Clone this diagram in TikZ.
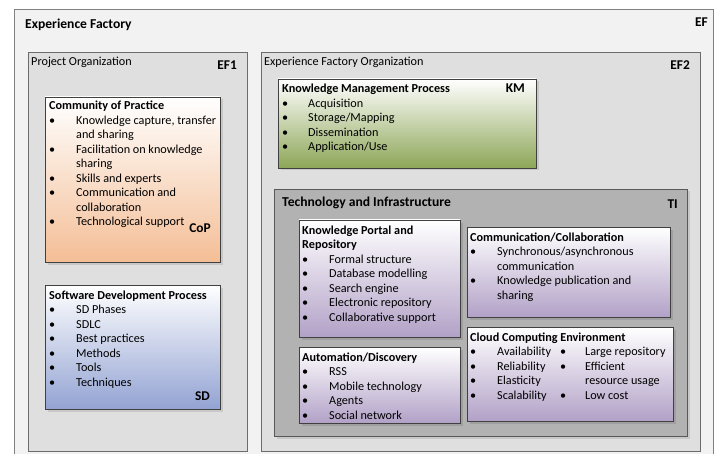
\documentclass[tikz,border=0pt]{standalone}
\usepackage{fontspec}
\setmainfont{Carlito}
\usetikzlibrary{calc,shadows}

\definecolor{efbg}{HTML}{F2F2F2}
\definecolor{orgbg}{HTML}{DFDFDF}
\definecolor{tibg}{HTML}{B2B2B2}
\definecolor{copc}{HTML}{F4BE96}
\definecolor{sdc}{HTML}{93A3D3}
\definecolor{kmc}{HTML}{8DA657}
\definecolor{techc}{HTML}{B2A1C7}

% heading row of a bullet list (two or four columns)
\newcommand{\hd}[1]{\multicolumn{2}{@{}l@{}}{\textbf{#1}}}
\newcommand{\hdw}[1]{\multicolumn{4}{@{}l@{}}{\textbf{#1}}}
\newcommand{\bl}{\textbullet}

\begin{document}
\begin{tikzpicture}[x=1pt,y=-1pt,
    font=\fontsize{12.2}{14.5}\selectfont,
    box/.style={anchor=north west,inner sep=0pt,outer sep=0pt},
    area/.style={box,draw=gray!85!black,fill=orgbg},
    card/.style={box,draw=black!75,
      drop shadow={shadow xshift=2.5pt,shadow yshift=-2.5pt,fill=black,opacity=.1}},
    txt/.style={anchor=base west,inner sep=0pt},
    big/.style={txt,font=\fontsize{13.6}{15}\selectfont\bfseries},
    lbl/.style={anchor=base east,inner sep=0pt,font=\fontsize{13.4}{15}\selectfont\bfseries}]
    \clip (0,0) rectangle (719,454);
    \fill[white] (0,0) rectangle (719,454);

    % the whole factory
    \node[box,draw=gray,fill=efbg,minimum width=699pt,minimum height=470pt] (EF) at (14,9) {};
    \node[big] (EFt) at (25,29) {Experience Factory};
    \node[lbl] (EFl) at (708,27) {EF};

    % project side
    \node[area,minimum width=219pt,minimum height=399pt] (EF1) at (28,52) {};
    \node[txt] (EF1t) at (31,66) {Project Organization};
    \node[lbl] (EF1l) at (237,70) {EF1};

    \node[card,top color=white,bottom color=copc,minimum width=175pt,minimum height=165pt] (CoP) at (45,97) {};
    \node[txt] (CoPt) at ($(CoP.north west)+(4,13)$) {\begin{tabular}[t]{@{}p{27pt}@{}l@{}}
        \hd{Community of Practice}\\
        \bl & Knowledge capture, transfer\\
            & and sharing\\
        \bl & Facilitation on knowledge\\
            & sharing\\
        \bl & Skills and experts\\
        \bl & Communication and\\
            & collaboration\\
        \bl & Technological support\\
      \end{tabular}};
    \node[lbl] (CoPl) at (211,233) {CoP};

    \node[card,top color=white,bottom color=sdc,minimum width=175pt,minimum height=124pt] (SD) at (45,285) {};
    \node[txt] (SDt) at ($(SD.north west)+(4,14)$) {\begin{tabular}[t]{@{}p{27pt}@{}l@{}}
        \hd{Software Development Process}\\
        \bl & SD Phases\\
        \bl & SDLC\\
        \bl & Best practices\\
        \bl & Methods\\
        \bl & Tools\\
        \bl & Techniques\\
      \end{tabular}};
    \node[lbl] (SDl) at (210,400) {SD};

    % factory organization side
    \node[area,minimum width=439pt,minimum height=399pt] (EF2) at (261,52) {};
    \node[txt] (EF2t) at (264,66) {Experience Factory Organization};
    \node[lbl] (EF2l) at (690,70) {EF2};

    \node[card,top color=white,bottom color=kmc,minimum width=258pt,minimum height=89pt] (KM) at (278,79) {};
    \node[txt] (KMt) at ($(KM.north west)+(4,14)$) {\begin{tabular}[t]{@{}p{26pt}@{}l@{}}
        \hd{Knowledge Management Process}\\
        \bl & Acquisition\\
        \bl & Storage/Mapping\\
        \bl & Dissemination\\
        \bl & Application/Use\\
      \end{tabular}};
    \node[lbl] (KMl) at (525,93) {KM};

    \node[card,draw=black!65,fill=tibg,minimum width=413pt,minimum height=247pt] (TI) at (274,189) {};
    \node[big] (TIt) at (282,207) {Technology and Infrastructure};
    \node[lbl] (TIl) at (678,208) {TI};

    \node[card,top color=white,bottom color=techc,minimum width=161pt,minimum height=117pt] (KPR) at (299,220) {};
    \node[txt] (KPRt) at ($(KPR.north west)+(3,14)$) {\begin{tabular}[t]{@{}p{27pt}@{}l@{}}
        \hd{Knowledge Portal and}\\
        \hd{Repository}\\
        \bl & Formal structure\\
        \bl & Database modelling\\
        \bl & Search engine\\
        \bl & Electronic repository\\
        \bl & Collaborative support\\
      \end{tabular}};

    \node[card,top color=white,bottom color=techc,minimum width=161pt,minimum height=76pt] (AD) at (299,347) {};
    \node[txt] (ADt) at ($(AD.north west)+(3,14)$) {\begin{tabular}[t]{@{}p{27pt}@{}l@{}}
        \hd{Automation/Discovery}\\
        \bl & RSS\\
        \bl & Mobile technology\\
        \bl & Agents\\
        \bl & Social network\\
      \end{tabular}};

    \node[card,top color=white,bottom color=techc,minimum width=203pt,minimum height=90pt] (CC) at (467,227) {};
    \node[txt] (CCt) at ($(CC.north west)+(3,14)$) {\begin{tabular}[t]{@{}p{27pt}@{}l@{}}
        \hd{Communication/Collaboration}\\
        \bl & Synchronous/asynchronous\\
            & communication\\
        \bl & Knowledge publication and\\
            & sharing\\
      \end{tabular}};

    \node[card,top color=white,bottom color=techc,minimum width=206pt,minimum height=94pt] (CCE) at (467,327) {};
    \node[txt] (CCEt) at ($(CCE.north west)+(3,14)$) {\begin{tabular}[t]{@{}p{27pt}@{}p{63pt}@{}p{25pt}@{}l@{}}
        \hdw{Cloud Computing Environment}\\
        \bl & Availability & \bl & Large repository\\
        \bl & Reliability  & \bl & Efficient\\
        \bl & Elasticity   &     & resource usage\\
        \bl & Scalability  & \bl & Low cost\\
      \end{tabular}};
\end{tikzpicture}
\end{document}
